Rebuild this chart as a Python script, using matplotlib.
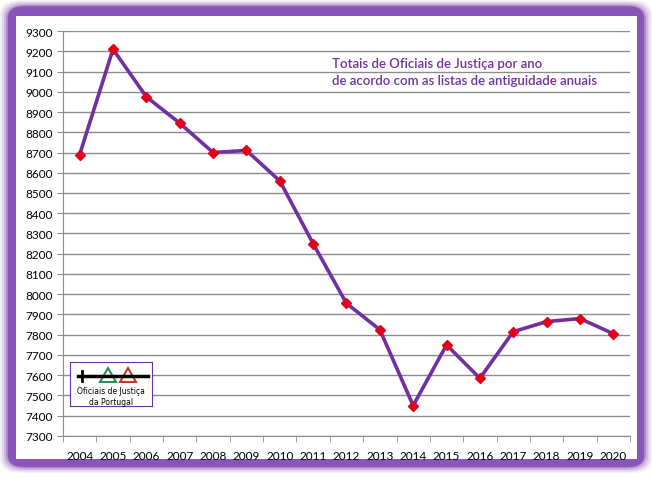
import numpy as np
import matplotlib.pyplot as plt
from matplotlib.patches import FancyBboxPatch, Rectangle, Polygon

years = ['2004', '2005', '2006', '2007', '2008', '2009', '2010', '2011', '2012',
         '2013', '2014', '2015', '2016', '2017', '2018', '2019', '2020']
totais = [8690, 9210, 8975, 8845, 8700, 8710, 8560, 8250, 7955,
          7825, 7450, 7750, 7585, 7815, 7865, 7880, 7805]
yticks = list(range(7300, 9301, 100))

purple = '#7030A0'
plt.rcParams['font.family'] = ['Lato', 'DejaVu Sans']

fig = plt.figure(figsize=(6.52, 4.85), dpi=100)

# purple frame with soft glow
for i, a in enumerate([0.08, 0.12, 0.18, 0.3]):
    pad = 0.012 - i * 0.003
    fig.patches.append(FancyBboxPatch((0.012 - pad, 0.035 - pad), 0.976 + 2 * pad, 0.95 + 2 * pad,
                                      boxstyle='round,pad=0,rounding_size=0.03',
                                      transform=fig.transFigure, fc=purple, ec='none', alpha=a, zorder=-3))
fig.patches.append(FancyBboxPatch((0.012, 0.035), 0.976, 0.95,
                                  boxstyle='round,pad=0,rounding_size=0.025',
                                  transform=fig.transFigure, fc='#8A55B8', ec='none', zorder=-2))
fig.patches.append(Rectangle((0.024, 0.052), 0.953, 0.912, transform=fig.transFigure,
                             fc='white', ec='none', zorder=-1))

ax = fig.add_axes([0.0966, 0.099, 0.8696, 0.835])
ax.set_facecolor('none')
x = np.arange(len(years))
ax.plot(x, totais, color=purple, lw=2.6, zorder=3)
ax.plot(x, totais, ls='none', marker='D', ms=5.5, color='#E2001A', zorder=4)

ax.set_xlim(-0.5, len(years) - 0.5)
ax.set_ylim(7300, 9300)
ax.set_yticks(yticks)
ax.set_yticklabels([str(v) for v in yticks])
ax.yaxis.grid(True, color='#8C8C8C', lw=1)
ax.set_axisbelow(True)
ax.set_xticks(x)
ax.set_xticklabels(years)
ax.set_xticks(np.arange(len(years) + 1) - 0.5, minor=True)
ax.tick_params(axis='x', which='major', length=0, pad=10, labelsize=8.5)
ax.tick_params(axis='x', which='minor', length=4, color='#8C8C8C')
ax.tick_params(axis='y', length=4, color='#8C8C8C', labelsize=8.5)
for s in ['top', 'right']:
    ax.spines[s].set_visible(False)
ax.spines['left'].set_color('#8C8C8C')
ax.spines['bottom'].set_color('#8C8C8C')

ax.text(0.475, 0.935, 'Totais de Oficiais de Justiça por ano\nde acordo com as listas de antiguidade anuais',
        transform=ax.transAxes, color=purple, fontsize=9.5, fontweight='semibold',
        va='top', ha='left', linespacing=1.45)

# logo box
lx = fig.add_axes([70 / 652, 1 - 407 / 485, 82 / 652, 44 / 485])
lx.set_xlim(0, 82)
lx.set_ylim(0, 44)
lx.set_xticks([])
lx.set_yticks([])
for s in lx.spines.values():
    s.set_color(purple)
lx.plot([8, 78], [30, 30], color='black', lw=2.5)
lx.plot([12, 12], [25, 35], color='black', lw=2)
lx.add_patch(Polygon([[30, 24], [38, 38], [46, 24]], closed=True, fill=False, ec='#2E8B57', lw=1.5))
lx.add_patch(Polygon([[50, 24], [58, 38], [66, 24]], closed=True, fill=False, ec='#C0392B', lw=1.5))
lx.text(41, 10, 'Oficiais de Justiça\nda Portugal', ha='center', va='center', fontsize=5.5,
        family=['DejaVu Sans'], linespacing=1.2)

fig.savefig('out.png', dpi=100)
